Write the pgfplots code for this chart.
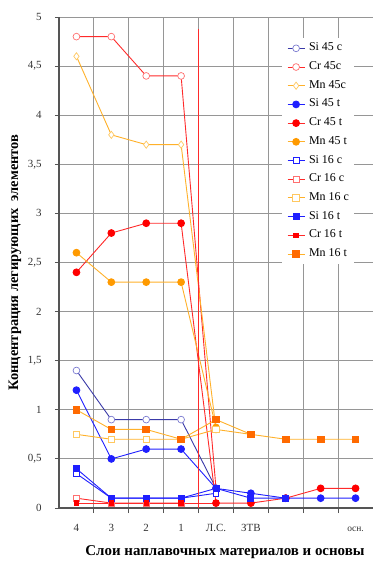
\documentclass[border=0pt]{standalone}
\usepackage{fontspec}
\setmainfont{Liberation Serif}
\usepackage{pgfplots}
\pgfplotsset{compat=1.18}
\definecolor{navyl}{HTML}{3A3AA8}
\definecolor{navym}{HTML}{7A7AD0}
\definecolor{redl}{HTML}{FF2A2A}
\definecolor{redm}{HTML}{FF7070}
\definecolor{yell}{HTML}{FFB12A}
\definecolor{yelm}{HTML}{FFC860}
\definecolor{bluel}{HTML}{1F1FFF}
\definecolor{orl}{HTML}{FF9A00}
\definecolor{orm}{HTML}{FF6A00}
\definecolor{gridc}{HTML}{969696}
\definecolor{axc}{HTML}{555555}
\begin{document}
\begin{tikzpicture}
\path[use as bounding box] (-59bp,-61bp) rectangle (330bp,508bp);
\begin{axis}[
  scale only axis, width=314bp, height=491bp,
  at={(0,0)}, anchor=south west,
  xmin=-0.5, xmax=8.5, ymin=0, ymax=5,
  axis x line*=bottom, axis y line*=left,
  axis line style={draw=axc, line width=1.1bp},
  xtick={0,...,8},
  xticklabels={4,3,2,1,Л.С.,ЗТВ,,,{\fontsize{9.5}{10}\selectfont осн.}},
  major x tick style={draw=none},
  minor xtick={0.5,1.5,...,7.5},
  xminorgrids,
  ytick={0,0.5,...,5},
  ymajorgrids,
  grid style={draw=gridc, line width=0.9bp},
  minor grid style={draw=gridc, line width=0.9bp},
  tick align=outside,
  major tick length=4bp, minor tick length=5bp,
  tick style={draw=axc, line width=0.9bp},
  /pgf/number format/.cd, use comma, 1000 sep={}, assume math mode=true,
  /pgfplots/.cd,
  ticklabel style={font=\fontsize{11}{12}\selectfont, text=black!80},
  yticklabel style={xshift=-10bp},
  xticklabel style={yshift=-8bp, text height=8bp},
  xlabel={Слои наплавочных материалов и основы},
  xlabel style={font=\bfseries\fontsize{15}{16}\selectfont, at={(axis description cs:0,0)}, anchor=center, xshift=166bp, yshift=-44bp},
  ylabel={Концентрация легирующих\ \ элементов},
  ylabel style={font=\bfseries\fontsize{14.5}{16}\selectfont, at={(axis description cs:0,0.5)}, anchor=center, yshift=44bp},
  legend cell align=left,
  legend style={at={(0.71,0.957)}, anchor=north west, fill=white, draw=none,
    font=\fontsize{12}{13}\selectfont, row sep=8.7bp, inner sep=5bp,
    nodes={inner sep=0bp, text height=7.5bp, text depth=2.5bp},
    /tikz/every odd column/.append style={column sep=4bp}},
  every axis plot/.append style={line width=0.9bp},
]
% Si 45 c
\addplot[navyl, mark=*, mark size=3.4bp, mark options={draw=navym, fill=white, line width=0.7bp}]
  coordinates {(0,1.4)(1,0.9)(2,0.9)(3,0.9)(4,0.2)};
% Cr 45 c
\addplot[redl, mark=*, mark size=3.4bp, mark options={draw=redm, fill=white, line width=0.7bp}]
  coordinates {(0,4.8)(1,4.8)(2,4.4)(3,4.4)(4,0.2)};
% Mn 45 c
\addplot[yell, mark=diamond*, mark size=3.6bp, mark options={draw=yelm, fill=white, line width=0.7bp}]
  coordinates {(0,4.6)(1,3.8)(2,3.7)(3,3.7)(4,0.8)};
% Si 45 t
\addplot[bluel, mark=*, mark size=3.4bp, mark options={draw=bluel, fill=bluel}]
  coordinates {(0,1.2)(1,0.5)(2,0.6)(3,0.6)(4,0.2)(5,0.15)(6,0.1)(7,0.1)(8,0.1)};
% Cr 45 t
\addplot[redl, mark=*, mark size=3.4bp, mark options={draw=red, fill=red}]
  coordinates {(0,2.4)(1,2.8)(2,2.9)(3,2.9)(4,0.05)(5,0.05)(6,0.1)(7,0.2)(8,0.2)};
% Mn 45 t
\addplot[yell, mark=*, mark size=3.4bp, mark options={draw=orl, fill=orl}]
  coordinates {(0,2.6)(1,2.3)(2,2.3)(3,2.3)(4,0.82)};
% Si 16 c
\addplot[bluel, mark=square*, mark size=2.8bp, mark options={draw=bluel, fill=white, line width=0.7bp}]
  coordinates {(0,0.35)(1,0.1)(2,0.1)(3,0.1)(4,0.15)};
% Cr 16 c
\addplot[redl, mark=square*, mark size=2.8bp, mark options={draw=redm, fill=white, line width=0.7bp}]
  coordinates {(0,0.1)(1,0.05)(2,0.05)(3,0.05)};
% Mn 16 c
\addplot[yell, mark=square*, mark size=3.3bp, mark options={draw=yelm, fill=white, line width=0.7bp}]
  coordinates {(0,0.75)(1,0.7)(2,0.7)(3,0.7)(4,0.8)(5,0.75)};
% Si 16 t
\addplot[bluel, mark=square*, mark size=3bp, mark options={draw=bluel, fill=bluel}]
  coordinates {(0,0.4)(1,0.1)(2,0.1)(3,0.1)(4,0.2)(5,0.1)(6,0.1)};
% Cr 16 t
\addplot[redl, mark=square*, mark size=2.2bp, mark options={draw=red, fill=red}]
  coordinates {(0,0.05)(1,0.05)(2,0.05)(3,0.05)(4,0.05)};
% Mn 16 t
\addplot[yell, mark=square*, mark size=3.3bp, mark options={draw=orm, fill=orm}]
  coordinates {(0,1.0)(1,0.8)(2,0.8)(3,0.7)(4,0.9)(5,0.75)(6,0.7)(7,0.7)(8,0.7)};
\legend{Si 45 c,Cr 45c,Mn 45c,Si 45 t,Cr 45 t,Mn 45 t,Si 16 c,Cr 16 c,Mn 16 c,Si 16 t,Cr 16 t,Mn 16 t}
% red vertical divider
\addplot[redl, line width=0.9bp, forget plot] coordinates {(3.5,0)(3.5,4.88)};
\end{axis}
\end{tikzpicture}
\end{document}
